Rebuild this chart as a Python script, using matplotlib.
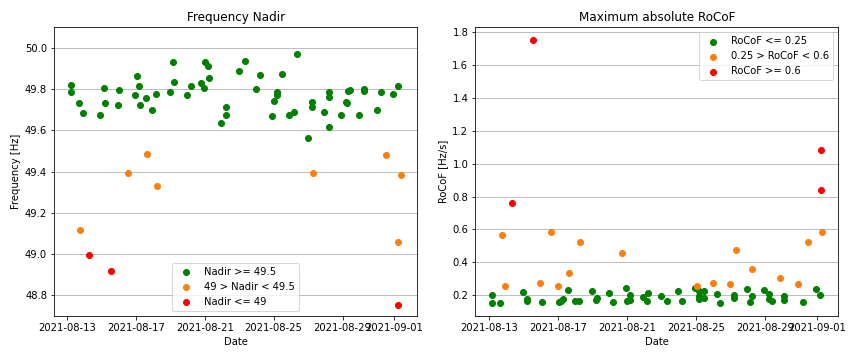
import numpy as np
import pandas as pd
import matplotlib
matplotlib.use("Agg")
import matplotlib.pyplot as plt
import matplotlib.dates as mdates

# event times as days after 2021-08-13 00:00
start = pd.Timestamp("2021-08-13")

nadir_day = [0.21, 0.21, 0.68, 0.95, 1.90, 2.13, 2.19, 3.00, 2.94, 3.93, 4.04, 4.16,
             4.22, 4.56, 4.93, 5.15, 5.96, 6.13, 6.19, 6.94, 7.18, 7.76, 7.93, 7.99,
             8.18, 8.22, 8.97, 9.21, 9.21, 9.96, 10.33, 10.97, 11.20, 11.93, 12.05,
             12.19, 12.17, 12.48, 12.92, 13.21, 13.33, 13.97, 14.20, 14.20, 14.95,
             15.20, 15.20, 15.24, 15.94, 16.19, 16.25, 16.31, 16.42, 16.98, 17.23,
             17.23, 17.99, 18.22, 18.96, 19.25,
             0.74, 3.52, 4.62, 5.20, 14.26, 18.55, 19.25, 19.38,
             1.26, 2.55, 19.25]
nadir_hz = [49.820, 49.786, 49.733, 49.684, 49.674, 49.807, 49.733, 49.794, 49.723,
            49.772, 49.864, 49.815, 49.723, 49.757, 49.699, 49.777, 49.786, 49.929,
            49.835, 49.772, 49.815, 49.830, 49.807, 49.929, 49.913, 49.854, 49.636,
            49.713, 49.674, 49.888, 49.937, 49.802, 49.869, 49.670, 49.743, 49.786,
            49.772, 49.874, 49.674, 49.689, 49.971, 49.563, 49.738, 49.713, 49.689,
            49.786, 49.762, 49.616, 49.674, 49.738, 49.733, 49.789, 49.794, 49.674,
            49.801, 49.789, 49.699, 49.786, 49.777, 49.815,
            49.116, 49.393, 49.485, 49.330, 49.393, 49.480, 49.057, 49.383,
            48.994, 48.920, 48.756]

rocof_day = [0.15, 0.15, 0.62, 1.95, 2.18, 2.18, 3.05, 4.03, 4.15, 4.27, 4.56, 4.96,
             5.19, 5.95, 6.18, 6.24, 6.93, 7.16, 7.92, 7.97, 8.15, 8.15, 8.90, 9.13,
             9.19, 9.94, 10.29, 10.93, 11.16, 11.93, 12.16, 12.45, 12.16, 12.18,
             12.43, 13.19, 13.36, 14.17, 14.17, 14.92, 15.15, 15.21, 15.96, 16.20,
             16.25, 16.37, 17.12, 17.12, 18.17, 18.94, 19.17,
             0.73, 0.91, 2.93, 3.57, 3.98, 4.61, 5.25, 7.68, 12.03, 12.95, 13.94,
             14.29, 15.21, 16.89, 17.93, 18.46, 19.29,
             1.31, 2.53, 19.23, 19.23]
rocof_hzs = [0.200, 0.151, 0.151, 0.218, 0.176, 0.163, 0.157, 0.157, 0.163, 0.176,
             0.230, 0.163, 0.163, 0.224, 0.170, 0.182, 0.212, 0.157, 0.243, 0.163,
             0.170, 0.200, 0.188, 0.163, 0.212, 0.194, 0.163, 0.224, 0.163, 0.243,
             0.224, 0.224, 0.196, 0.176, 0.182, 0.206, 0.151, 0.200, 0.182, 0.237,
             0.157, 0.194, 0.230, 0.206, 0.176, 0.163, 0.194, 0.170, 0.157, 0.237,
             0.200,
             0.565, 0.255, 0.273, 0.583, 0.255, 0.334, 0.523, 0.456, 0.255, 0.273,
             0.267, 0.474, 0.356, 0.303, 0.267, 0.523, 0.583,
             0.760, 1.752, 1.082, 0.839]

nadir_t = start + pd.to_timedelta(nadir_day, unit="D")
rocof_t = start + pd.to_timedelta(rocof_day, unit="D")
nadir_hz = np.array(nadir_hz)
rocof_hzs = np.array(rocof_hzs)

fig, (ax1, ax2) = plt.subplots(1, 2, figsize=(859 / 72, 358 / 72), dpi=72)
fig.subplots_adjust(left=0.063, right=0.976, bottom=0.117, top=0.924, wspace=0.16)

# frequency nadir
ok = nadir_hz >= 49.5
mid = (nadir_hz > 49) & (nadir_hz < 49.5)
bad = nadir_hz <= 49
ax1.scatter(nadir_t[ok], nadir_hz[ok], color="green", label="Nadir >= 49.5")
ax1.scatter(nadir_t[mid], nadir_hz[mid], color="tab:orange", label="49 > Nadir < 49.5")
ax1.scatter(nadir_t[bad], nadir_hz[bad], color="red", label="Nadir <= 49")
ax1.set_ylim(48.7, 50.1)
ax1.set_title("Frequency Nadir")
ax1.set_xlabel("Date")
ax1.set_ylabel("Frequency [Hz]")
ax1.grid(axis="y")
ax1.set_axisbelow(True)
ax1.legend(loc="lower center")

# max abs rocof
ok = rocof_hzs <= 0.25
mid = (rocof_hzs > 0.25) & (rocof_hzs < 0.6)
bad = rocof_hzs >= 0.6
ax2.scatter(rocof_t[ok], rocof_hzs[ok], color="green", label="RoCoF <= 0.25")
ax2.scatter(rocof_t[mid], rocof_hzs[mid], color="tab:orange", label="0.25 > RoCoF < 0.6")
ax2.scatter(rocof_t[bad], rocof_hzs[bad], color="red", label="RoCoF >= 0.6")
ax2.set_title("Maximum absolute RoCoF")
ax2.set_xlabel("Date")
ax2.set_ylabel("RoCoF [Hz/s]")
ax2.grid(axis="y")
ax2.set_axisbelow(True)
ax2.legend(loc="upper right")

for ax in (ax1, ax2):
    loc = mdates.DayLocator(bymonthday=[1, 5, 9, 13, 17, 21, 25, 29])
    ax.xaxis.set_major_locator(loc)
    ax.xaxis.set_major_formatter(mdates.DateFormatter("%Y-%m-%d"))

fig.savefig("out.png", dpi=72)
